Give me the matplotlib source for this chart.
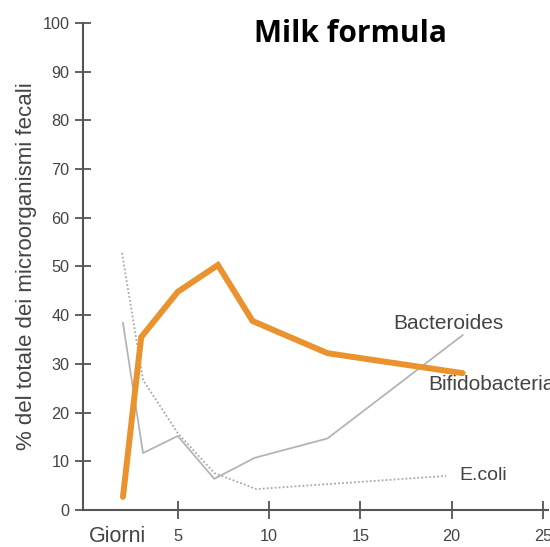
import matplotlib.pyplot as plt

# days and % values
bifido_days = [2.0, 3.0, 5.0, 7.2, 9.1, 13.2, 20.6]
bifido_vals = [2.7, 35.5, 44.8, 50.3, 38.8, 32.2, 28.1]

bact_days = [2.0, 3.1, 5.0, 7.0, 9.2, 13.2, 20.6]
bact_vals = [38.4, 11.7, 15.2, 6.4, 10.7, 14.7, 35.9]

ecoli_days = [1.95, 3.1, 5.0, 7.0, 9.3, 19.7]
ecoli_vals = [52.8, 26.7, 15.8, 7.6, 4.3, 7.0]

xticks = [5, 10, 15, 20, 25]
yticks = list(range(0, 101, 10))

plt.rcParams["font.family"] = ["Liberation Sans", "DejaVu Sans"]

fig = plt.figure(figsize=(5.5, 5.47), dpi=100)
ax = fig.add_axes([0.1505, 0.0676, 0.8467, 0.8904])

ax.plot(ecoli_days, ecoli_vals, color="#a8a8a8", lw=1.3, ls=(0, (1, 1.2)))
ax.plot(bact_days, bact_vals, color="#b4b4b4", lw=1.3)
ax.plot(bifido_days, bifido_vals, color="#ea922e", lw=4.3, solid_joinstyle="miter",
        solid_capstyle="round")

ax.set_xlim(-0.2, 25.3)
ax.set_ylim(0, 100)
ax.set_xticks(xticks)
ax.set_yticks(yticks)

for s in ["top", "right"]:
    ax.spines[s].set_visible(False)
for s in ["left", "bottom"]:
    ax.spines[s].set_color("#555555")
    ax.spines[s].set_linewidth(1.5)
ax.spines["left"].set_bounds(0, 100)

ax.tick_params(direction="inout", length=11, width=1.3, color="#555555",
               labelcolor="#444444", labelsize=11.7)
ax.tick_params(axis="x", length=13, pad=7)
ax.tick_params(axis="y", pad=4)

ax.set_ylabel("% del totale dei microorganismi fecali", color="#444444",
              fontsize=16, labelpad=4)
ax.text(1.7, -5.5, "Giorni", color="#444444", fontsize=15.5, ha="center",
        va="center", clip_on=False)

ax.text(16.8, 38.3, "Bacteroides", color="#444444", fontsize=15, va="center")
ax.text(18.7, 25.7, "Bifidobacteria", color="#444444", fontsize=15, va="center",
        clip_on=False)
ax.text(20.4, 7.0, "E.coli", color="#444444", fontsize=14, va="center")

fig.text(0.637, 0.937, "Milk formula", fontsize=21.5, fontweight="bold",
         family="Open Sans", ha="center", va="center")

fig.savefig("out.png", dpi=100)
